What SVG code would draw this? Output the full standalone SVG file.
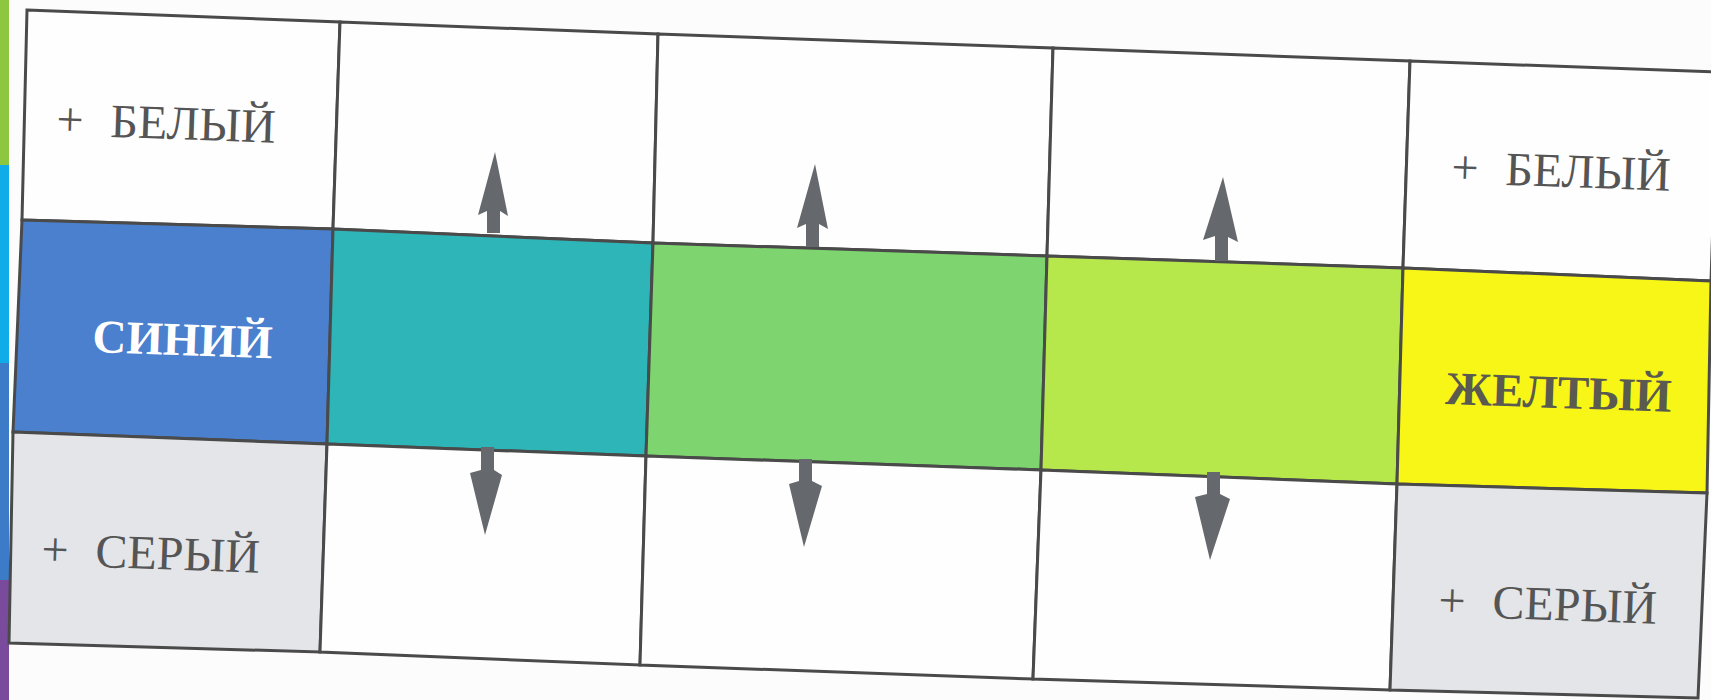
<svg xmlns="http://www.w3.org/2000/svg" width="1711" height="700" viewBox="0 0 1711 700">
<style>
.cell{stroke:#4a4a4a;stroke-width:3;stroke-linejoin:miter}
.w{fill:#fefefe}
.g{fill:#e3e5e9}
.lbl{font-family:"Liberation Serif","Times New Roman",serif;font-size:48px;fill:#555555;word-spacing:15px}
.bold{font-family:"Liberation Serif","Times New Roman",serif;font-size:47px;font-weight:bold}
.arr{fill:#65686c}
</style>
<rect x="0" y="0" width="1711" height="700" fill="#fcfcfc"/>
<g id="strip">
<rect x="0" y="0" width="9" height="165" fill="#8dc63f"/>
<rect x="0" y="165" width="9" height="198" fill="#10acea"/>
<rect x="0" y="363" width="9" height="217" fill="#3c7bc8"/>
<rect x="0" y="580" width="9" height="120" fill="#7a4b9c"/>
</g>
<g id="cell-r0c0"><polygon class="cell w" points="27,10 340,22 333,229 22,220"/>
<text class="lbl" x="56" y="135" transform="rotate(2 56 135)">+ БЕЛЫЙ</text></g>
<g id="cell-r0c1"><polygon class="cell w" points="340,22 658,34 653,243 333,229"/></g>
<g id="cell-r0c2"><polygon class="cell w" points="658,34 1053,48 1047,256 653,243"/></g>
<g id="cell-r0c3"><polygon class="cell w" points="1053,48 1410,61 1403,268 1047,256"/></g>
<g id="cell-r0c4"><polygon class="cell w" points="1410,61 1718,72 1711,281 1403,268"/>
<text class="lbl" x="1451" y="183" transform="rotate(2 1451 183)">+ БЕЛЫЙ</text></g>
<g id="cell-r1c0"><polygon class="cell" fill="#4a80cd" points="22,220 333,229 327,444 13,432"/>
<text class="bold" fill="#ffffff" x="92" y="352" transform="rotate(2 92 352)">СИНИЙ</text></g>
<g id="cell-r1c1"><polygon class="cell" fill="#2db5b8" points="333,229 653,243 646,456 327,444"/></g>
<g id="cell-r1c2"><polygon class="cell" fill="#7ed46e" points="653,243 1047,256 1041,470 646,456"/></g>
<g id="cell-r1c3"><polygon class="cell" fill="#b6e84c" points="1047,256 1403,268 1397,484 1041,470"/></g>
<g id="cell-r1c4"><polygon class="cell" fill="#f8f616" points="1403,268 1711,281 1707,493 1397,484"/>
<text class="bold" fill="#5a5a50" x="1445" y="404" transform="rotate(2 1445 404)">ЖЕЛТЫЙ</text></g>
<g id="cell-r2c0"><polygon class="cell g" points="13,432 327,444 320,652 9,643"/>
<text class="lbl" x="41" y="565" transform="rotate(2 41 565)">+ СЕРЫЙ</text></g>
<g id="cell-r2c1"><polygon class="cell w" points="327,444 646,456 640,665 320,652"/></g>
<g id="cell-r2c2"><polygon class="cell w" points="646,456 1041,470 1033,679 640,665"/></g>
<g id="cell-r2c3"><polygon class="cell w" points="1041,470 1397,484 1390,690 1033,679"/></g>
<g id="cell-r2c4"><polygon class="cell g" points="1397,484 1707,493 1698,698 1390,690"/>
<text class="lbl" x="1438" y="616" transform="rotate(2 1438 616)">+ СЕРЫЙ</text></g>
<g id="connectors">
<path class="arr" d="M495,152 L508,216 L500,211 L500,233 L487,233 L487,211 L478,215 Z"/>
<path class="arr" d="M815,164 L828,229 L819,224 L819,247 L806,247 L806,224 L797,228 Z"/>
<path class="arr" d="M1223,177 L1238,242 L1228,237 L1228,261 L1215,261 L1215,236 L1203,240 Z"/>
<path class="arr" d="M481,447 L494,447 L494,470 L502,475 L485,535 L470,473 L481,470 Z"/>
<path class="arr" d="M799,459 L812,459 L812,481 L822,486 L804,547 L789,484 L799,481 Z"/>
<path class="arr" d="M1207,472 L1220,472 L1220,494 L1230,499 L1210,560 L1195,497 L1207,494 Z"/>
</g>
</svg>
